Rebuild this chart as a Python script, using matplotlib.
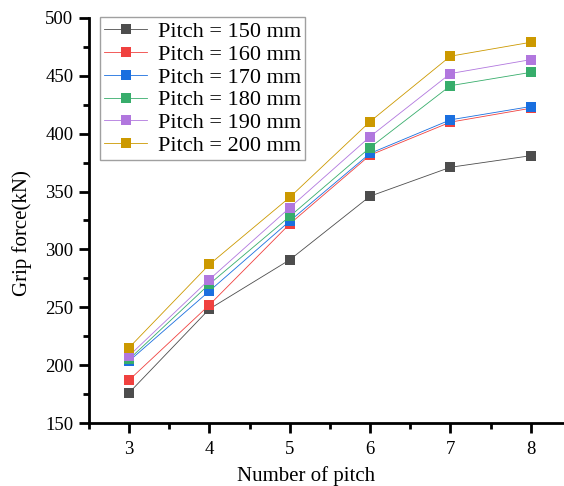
import matplotlib
matplotlib.use('Agg')
import matplotlib.pyplot as plt
from matplotlib.ticker import MultipleLocator

# Grip force vs. number of pitch, one line per pitch size.

plt.rcParams['font.family'] = ['Liberation Serif', 'DejaVu Serif']

pitches = [3, 4, 5, 6, 7, 8]
labels = ['Pitch = 150 mm', 'Pitch = 160 mm', 'Pitch = 170 mm',
          'Pitch = 180 mm', 'Pitch = 190 mm', 'Pitch = 200 mm']
p150 = [176, 248.5, 291, 346, 371, 381]
p160 = [187, 252, 322, 381.5, 410, 422]
p170 = [203.5, 264, 324.5, 383, 412, 423.5]
p180 = [205, 270, 328.5, 388, 441.5, 453]
p190 = [208, 274, 336, 397.5, 452, 464]
p200 = [215, 287, 345, 410.5, 467, 479]
colors = ['#4d4d4d', '#f0413f', '#1a6fdf', '#37ad6b', '#b177de', '#cc9900']

fig = plt.figure(figsize=(5.64, 4.86), dpi=100)
ax = fig.add_axes([0.1574, 0.1296, 0.855, 0.8334])

for ys, c, lab in zip([p150, p160, p170, p180, p190, p200], colors, labels):
    ax.plot(pitches, ys, color=c, lw=0.6, marker='s', markersize=6.5,
            markeredgewidth=0, label=lab)

ax.set_xlim(2.5, 8.5)
ax.set_ylim(150, 500)
ax.xaxis.set_major_locator(MultipleLocator(1))
ax.xaxis.set_minor_locator(MultipleLocator(0.5))
ax.yaxis.set_major_locator(MultipleLocator(50))
ax.yaxis.set_minor_locator(MultipleLocator(25))
ax.spines['top'].set_visible(False)
ax.spines['right'].set_visible(False)
for s in ['left', 'bottom']:
    ax.spines[s].set_linewidth(2)
ax.tick_params(which='major', direction='out', length=7, width=2, labelsize=13.5)
ax.tick_params(axis='x', which='major', pad=6)
ax.tick_params(axis='y', which='major', pad=4)
ax.tick_params(which='minor', direction='out', length=4, width=2)

ax.set_xlabel('Number of pitch', fontsize=15, va='center')
ax.set_ylabel('Grip force(kN)', fontsize=15, va='center')
ax.xaxis.set_label_coords(0.45, -0.131)
ax.yaxis.set_label_coords(-0.138, 0.47)

leg = ax.legend(loc='upper left', bbox_to_anchor=(100 / 564, 1 - 17 / 486),
                bbox_transform=fig.transFigure, fontsize=16, frameon=True,
                fancybox=False, edgecolor='#888888', handlelength=1.9,
                handletextpad=0.5, labelspacing=0.1, borderpad=0.2,
                borderaxespad=0)
leg.get_frame().set_linewidth(1)

fig.savefig('out.png', dpi=100)
